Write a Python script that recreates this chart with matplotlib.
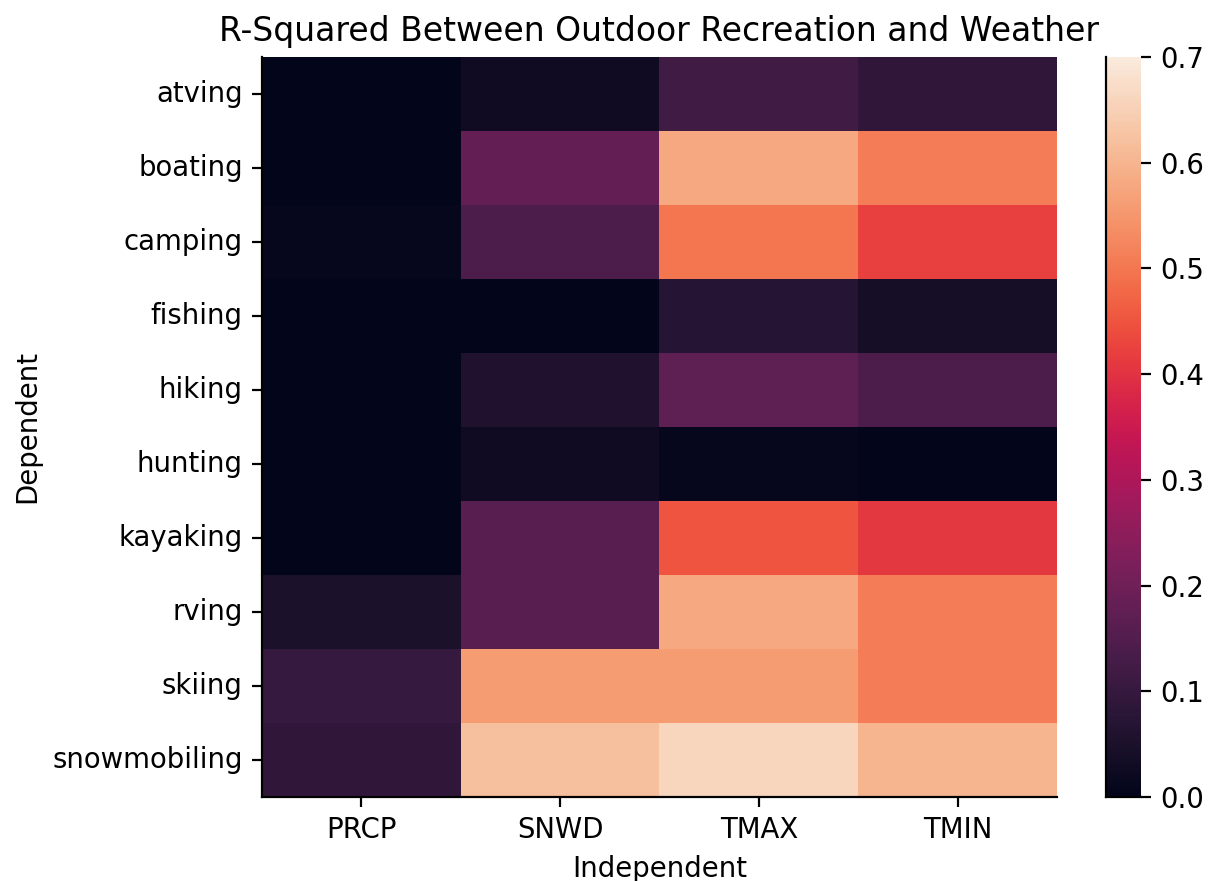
import numpy as np
import pandas as pd
import matplotlib
matplotlib.use('Agg')
import matplotlib.pyplot as plt
import seaborn as sns

activities = ['atving', 'boating', 'camping', 'fishing', 'hiking',
              'hunting', 'kayaking', 'rving', 'skiing', 'snowmobiling']
weather = ['PRCP', 'SNWD', 'TMAX', 'TMIN']

# r-squared per activity, one list per weather variable
prcp = [0.00, 0.00, 0.01, 0.00, 0.00, 0.00, 0.00, 0.05, 0.10, 0.09]
snwd = [0.03, 0.18, 0.14, 0.00, 0.06, 0.03, 0.16, 0.16, 0.56, 0.62]
tmax = [0.12, 0.58, 0.50, 0.07, 0.17, 0.01, 0.45, 0.58, 0.56, 0.66]
tmin = [0.09, 0.51, 0.42, 0.04, 0.14, 0.00, 0.41, 0.51, 0.51, 0.60]

r2_df = pd.DataFrame({'PRCP': prcp, 'SNWD': snwd, 'TMAX': tmax, 'TMIN': tmin},
                     index=activities)
r2_df.index.name = 'Dependent'
r2_df.columns.name = 'Independent'

dpi = 198
fig = plt.figure(figsize=(1210 / dpi, 881 / dpi), dpi=dpi)
ax = fig.add_axes([0.2165, 0.0954, 0.657, 0.8399])
cax = fig.add_axes([0.9143, 0.0954, 0.0290, 0.8399])

sns.heatmap(r2_df, ax=ax, cbar_ax=cax, vmin=0, vmax=0.7, cmap='rocket')
ax.set_title('R-Squared Between Outdoor Recreation and Weather', fontsize=12)
ax.set_xlabel('Independent')
ax.set_ylabel('Dependent')
ax.tick_params(axis='y', rotation=0)

for side in ['left', 'bottom']:
    ax.spines[side].set_visible(True)
    cax.spines[side].set_visible(True)
    cax.spines[side].set_color('black')

plt.savefig('out.png', dpi=dpi)
